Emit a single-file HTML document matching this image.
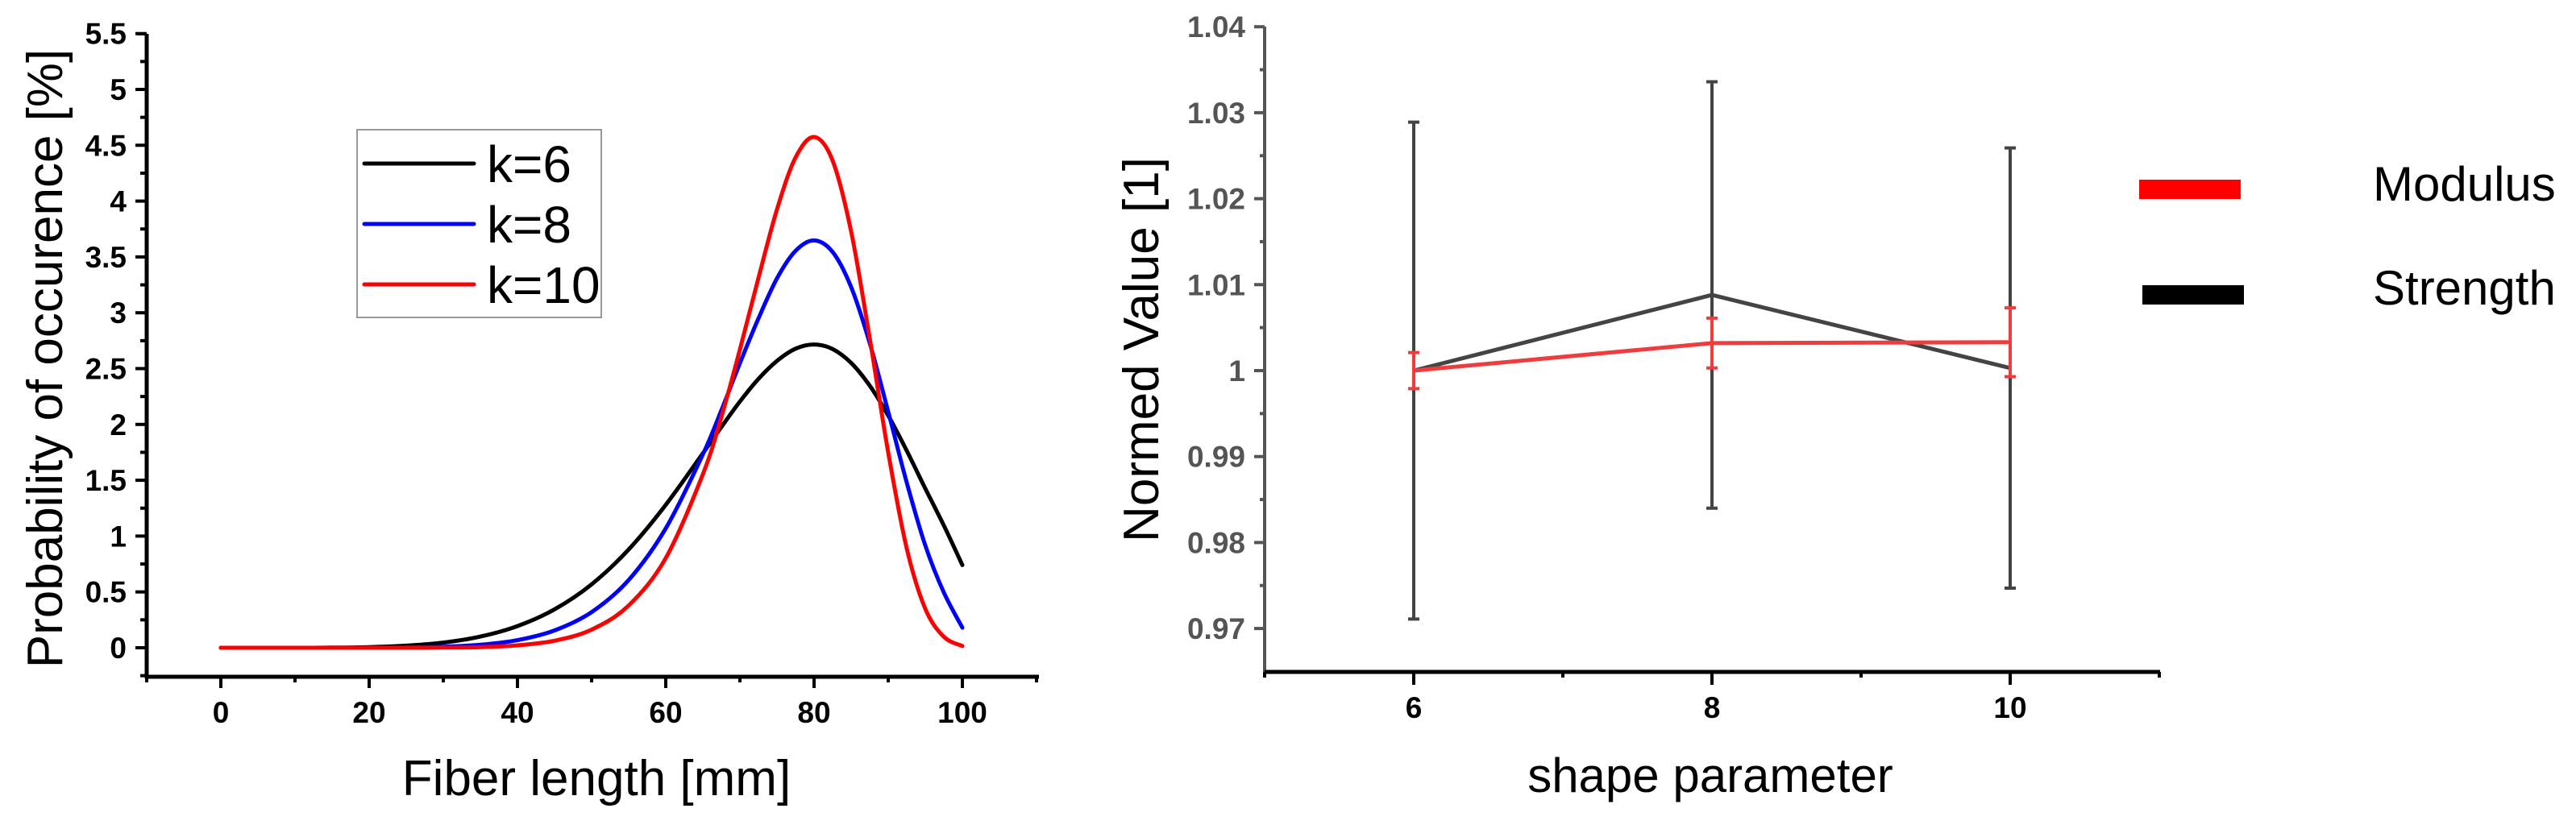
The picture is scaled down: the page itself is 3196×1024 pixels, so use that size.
<!DOCTYPE html>
<html><head><meta charset="utf-8"><style>
html,body{margin:0;padding:0;background:#fff;}
svg{display:block;font-family:"Liberation Sans",Arial,sans-serif;}
</style></head><body>
<svg id="chart" width="3196" height="1024" viewBox="0 0 3196 1024" xmlns="http://www.w3.org/2000/svg">
<g id="left"></g>
<g id="right"></g>
</svg>
<script>
// ---- Left chart data ----
const fiberLength = [0,5,10,15,20,25,30,35,40,45,50,55,60,65,67.5,70,72.5,75,77.5,80,82.5,85,87.5,90,92.5,95,97.5,100];
const probK6  = [0,0,0.0001,0.0011,0.006,0.019,0.046,0.100,0.194,0.344,0.568,0.880,1.280,1.741,1.977,2.205,2.408,2.569,2.678,2.716,2.675,2.551,2.348,2.079,1.764,1.426,1.095,0.74];
const probK8  = [0,0,0,0,0.0005,0.002,0.009,0.027,0.068,0.155,0.319,0.607,1.069,1.731,2.127,2.548,2.949,3.308,3.554,3.648,3.545,3.230,2.730,2.113,1.479,0.916,0.495,0.18];
const probK10 = [0,0,0,0,0,0,0.0013,0.0057,0.022,0.063,0.162,0.379,0.803,1.553,2.067,2.671,3.312,3.926,4.390,4.574,4.363,3.727,2.775,1.749,0.889,0.349,0.099,0.015];
const seriesNames = ["k=6","k=8","k=10"];
const leftXTicks = [0,20,40,60,80,100];
const leftYTicks = ["0","0.5","1","1.5","2","2.5","3","3.5","4","4.5","5","5.5"];
// ---- Right chart data ----
const shapeParam = [6,8,10];
const strengthVal = [1.0000,1.0088,1.0003];
const strengthErr = [0.0289,0.0248,0.0256];
const modulusVal = [1.0000,1.0032,1.0033];
const modulusErr = [0.0021,0.0029,0.0040];
const rightYTicks = ["0.97","0.98","0.99","1","1.01","1.02","1.03","1.04"];
const rightXTicks = [6,8,10];

const NS="http://www.w3.org/2000/svg";
function mk(parent,tag,attrs,text){const e=document.createElementNS(NS,tag);for(const k in attrs)e.setAttribute(k,attrs[k]);if(text!==undefined)e.textContent=text;parent.appendChild(e);return e;}

// ===== LEFT =====
const L=document.getElementById('left');
const lx=v=>274+(v)*9.2;
const ly=v=>804-v*138.6;
const lAxX=182,lAxY=840;
function smoothPath(xs,ys){
  const p=xs.map((x,i)=>[lx(x),ly(ys[i])]);
  let d="M"+p[0][0].toFixed(1)+","+p[0][1].toFixed(1);
  for(let i=0;i<p.length-1;i++){
    const p0=p[Math.max(0,i-1)],p1=p[i],p2=p[i+1],p3=p[Math.min(p.length-1,i+2)];
    const c1=[p1[0]+(p2[0]-p0[0])/6,p1[1]+(p2[1]-p0[1])/6];
    const c2=[p2[0]-(p3[0]-p1[0])/6,p2[1]-(p3[1]-p1[1])/6];
    d+=" C"+c1[0].toFixed(1)+","+c1[1].toFixed(1)+" "+c2[0].toFixed(1)+","+c2[1].toFixed(1)+" "+p2[0].toFixed(1)+","+p2[1].toFixed(1);
  }
  return d;
}
const colors=["#000000","#0000ff","#ff0000"];
const seriesData=[probK6,probK8,probK10];
const seriesKeys=["curve-k6","curve-k8","curve-k10"];
seriesData.forEach((ys,i)=>{
  const e=mk(L,'path',{d:smoothPath(fiberLength,ys),fill:'none',stroke:colors[i],'stroke-width':5,'stroke-linejoin':'round','stroke-linecap':'round'});
  
  
});
let a=mk(L,'line',{x1:lAxX,y1:42,x2:lAxX,y2:lAxY+2,stroke:'#000','stroke-width':5});


a=mk(L,'line',{x1:lAxX-2,y1:lAxY,x2:1289,y2:lAxY,stroke:'#000','stroke-width':5});


mk(L,'line',{x1:lAxX-11,y1:42,x2:lAxX,y2:42,stroke:'#000','stroke-width':4});
leftYTicks.forEach(t=>{
  const v=parseFloat(t),y=ly(v);
  mk(L,'line',{x1:lAxX-14,y1:y,x2:lAxX,y2:y,stroke:'#000','stroke-width':4});
  const mny=ly(v+0.25);
  if(v<5.5) mk(L,'line',{x1:lAxX-8,y1:mny,x2:lAxX,y2:mny,stroke:'#000','stroke-width':4});
  const tl=mk(L,'text',{x:157,y:y+13,'text-anchor':'end','font-size':37,'font-weight':'bold',fill:'#000'},t);
  
  
});
mk(L,'line',{x1:lAxX-8,y1:ly(-0.25),x2:lAxX,y2:ly(-0.25),stroke:'#000','stroke-width':4});
for(let v=-10;v<=110;v+=10){
  const x=lx(v),major=(v%20===0);
  mk(L,'line',{x1:x,y1:lAxY,x2:x,y2:lAxY+(major?14:7),stroke:'#000','stroke-width':4});
}
leftXTicks.forEach(v=>{
  const tl=mk(L,'text',{x:lx(v),y:897,'text-anchor':'middle','font-size':37,'font-weight':'bold',fill:'#000'},String(v));
  
  
});
let t=mk(L,'text',{x:740,y:987,'text-anchor':'middle','font-size':62,fill:'#000'},'Fiber length [mm]');


t=mk(L,'text',{x:0,y:0,transform:'translate(77,445) rotate(-90)','text-anchor':'middle','font-size':62,fill:'#000'},'Probability of occurence [%]');


const lg=mk(L,'g',{});


mk(lg,'rect',{x:443,y:161,width:303,height:233,fill:'#fff',stroke:'#999','stroke-width':2});
seriesNames.forEach((n,i)=>{
  const y=203+i*75;
  mk(lg,'line',{x1:452,y1:y,x2:588,y2:y,stroke:colors[i],'stroke-width':5,'stroke-linecap':'round'});
  const le=mk(lg,'text',{x:604,y:y+23,'font-size':64,fill:'#000'},n);
  
  
});

// ===== RIGHT =====
const R=document.getElementById('right');
const rx=v=>1569+(v-5)*185;
const ry=v=>460-(v-1)*10670;
const rAxX=1569,rAxY=834;
a=mk(R,'line',{x1:rAxX,y1:33,x2:rAxX,y2:rAxY,stroke:'#555','stroke-width':4});


a=mk(R,'line',{x1:rAxX,y1:rAxY,x2:2680,y2:rAxY,stroke:'#000','stroke-width':5});


rightYTicks.forEach(tk=>{
  const v=parseFloat(tk),y=ry(v);
  mk(R,'line',{x1:rAxX-13,y1:y,x2:rAxX,y2:y,stroke:'#555','stroke-width':4});
  if(v<1.04){const my=ry(v+0.005);mk(R,'line',{x1:rAxX-6,y1:my,x2:rAxX,y2:my,stroke:'#555','stroke-width':4});}
  const tl=mk(R,'text',{x:1545,y:y+13,'text-anchor':'end','font-size':37,'font-weight':'bold',fill:'#555'},tk);
  
  
});
for(let v=5;v<=11;v++){
  const x=rx(v),major=(v%2===0);
  mk(R,'line',{x1:x,y1:rAxY,x2:x,y2:rAxY+(major?16:7),stroke:'#000','stroke-width':4});
}
rightXTicks.forEach(v=>{
  const tl=mk(R,'text',{x:rx(v),y:891,'text-anchor':'middle','font-size':37,'font-weight':'bold',fill:'#000'},String(v));
  
  
});
t=mk(R,'text',{x:2122,y:983,'text-anchor':'middle','font-size':60,fill:'#000'},'shape parameter');


t=mk(R,'text',{x:0,y:0,transform:'translate(1437,434) rotate(-90)','text-anchor':'middle','font-size':62,fill:'#000'},'Normed Value [1]');


function drawSeries(vals,errs,color,name){
  const g=mk(R,'g',{});
  
  
  vals.forEach((v,i)=>{
    const x=rx(shapeParam[i]),yt=ry(v+errs[i]),yb=ry(v-errs[i]);
    const eb=mk(g,'path',{d:`M${x},${yt}V${yb}M${x-7},${yt}H${x+7}M${x-7},${yb}H${x+7}`,stroke:color,'stroke-width':4,fill:'none'});
    
    
  });
  const pts=vals.map((v,i)=>rx(shapeParam[i])+','+ry(v)).join(' ');
  const pl=mk(g,'polyline',{points:pts,fill:'none',stroke:color,'stroke-width':5});
  
  
}
drawSeries(strengthVal,strengthErr,'#444444','strength');
drawSeries(modulusVal,modulusErr,'#f03c3c','modulus');
const rg=mk(R,'g',{});


mk(rg,'rect',{x:2654,y:223,width:126,height:24,fill:'#ff0000'});
mk(rg,'rect',{x:2658,y:354,width:126,height:24,fill:'#000'});
let le=mk(rg,'text',{x:2944,y:249,'font-size':60,fill:'#000'},'Modulus');


le=mk(rg,'text',{x:2944,y:378,'font-size':60,fill:'#000'},'Strength');


</script>
</body></html>
